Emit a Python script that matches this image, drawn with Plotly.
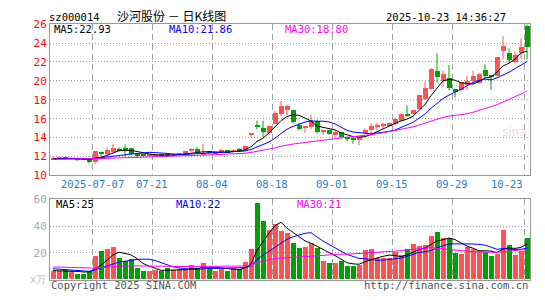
import plotly.graph_objects as go
import pandas as pd

# ---------------- data ----------------
dates = [
    "2025-06-26", "2025-06-27", "2025-06-30", "2025-07-01", "2025-07-02", "2025-07-03", "2025-07-04",
    "2025-07-07", "2025-07-08", "2025-07-09", "2025-07-10", "2025-07-11",
    "2025-07-14", "2025-07-15", "2025-07-16", "2025-07-17", "2025-07-18",
    "2025-07-21", "2025-07-22", "2025-07-23", "2025-07-24", "2025-07-25",
    "2025-07-28", "2025-07-29", "2025-07-30", "2025-07-31", "2025-08-01",
    "2025-08-04", "2025-08-05", "2025-08-06", "2025-08-07", "2025-08-08",
    "2025-08-11", "2025-08-12", "2025-08-13", "2025-08-14", "2025-08-15",
    "2025-08-18", "2025-08-19", "2025-08-20", "2025-08-21", "2025-08-22",
    "2025-08-25", "2025-08-26", "2025-08-27", "2025-08-28", "2025-08-29",
    "2025-09-01", "2025-09-02", "2025-09-03", "2025-09-04", "2025-09-05",
    "2025-09-08", "2025-09-09", "2025-09-10", "2025-09-11", "2025-09-12",
    "2025-09-15", "2025-09-16", "2025-09-17", "2025-09-18", "2025-09-19",
    "2025-09-22", "2025-09-23", "2025-09-24", "2025-09-25", "2025-09-26",
    "2025-09-29", "2025-09-30", "2025-10-09", "2025-10-10",
    "2025-10-13", "2025-10-14", "2025-10-15", "2025-10-16", "2025-10-17",
    "2025-10-20", "2025-10-21", "2025-10-22", "2025-10-23",
]

opens = [11.70, 11.75, 11.82, 11.72, 11.75, 11.70, 11.62, 11.39, 12.37, 12.20,
         12.47, 12.82, 12.80, 12.88, 12.27, 12.14, 12.07, 12.12, 12.20, 12.15,
         12.08, 12.18, 12.34, 12.56, 12.77, 12.20, 12.54, 12.32, 12.50, 12.62,
         12.50, 12.77, 12.62, 14.30, 15.30, 14.98, 14.42, 15.43, 16.47, 16.95,
         16.90, 15.30, 14.96, 15.10, 15.75, 14.62, 14.76, 14.28, 14.55, 14.05,
         13.85, 13.68, 14.42, 14.76, 15.10, 15.30, 15.23, 15.43, 15.77, 16.45,
         16.50, 17.05, 18.03, 19.11, 21.00, 19.92, 20.33, 19.11, 19.05, 19.52,
         19.99, 19.75, 21.14, 20.53, 20.53, 23.10, 22.96, 22.02, 22.90, 25.80]
highs = [12.05, 11.92, 11.86, 11.85, 11.78, 11.72, 11.65, 12.54, 12.40, 12.95,
         13.35, 12.95, 13.28, 12.90, 12.30, 12.18, 12.20, 12.25, 12.24, 12.20,
         12.22, 12.36, 12.58, 12.85, 12.97, 13.35, 12.58, 12.42, 12.83, 12.66,
         12.75, 12.90, 13.15, 14.36, 15.78, 15.78, 15.27, 16.80, 17.90, 17.50,
         16.95, 15.57, 15.25, 16.40, 15.90, 14.85, 14.85, 14.76, 14.60, 14.10,
         14.08, 14.10, 14.96, 15.50, 15.57, 15.57, 15.60, 16.10, 16.60, 17.40,
         16.95, 18.55, 19.92, 21.30, 22.90, 21.07, 21.68, 19.15, 19.90, 20.53,
         21.07, 20.80, 21.75, 20.60, 22.50, 24.72, 23.43, 23.10, 24.51, 26.00]
lows = [11.65, 11.70, 11.70, 11.68, 11.50, 11.60, 11.28, 11.19, 12.00, 12.15,
        12.40, 12.55, 12.00, 12.20, 11.86, 12.00, 12.03, 12.08, 12.08, 12.02,
        12.05, 12.15, 12.30, 12.52, 12.48, 12.15, 12.28, 12.25, 12.45, 12.40,
        12.45, 12.50, 12.58, 14.05, 14.90, 14.07, 14.30, 15.40, 16.25, 16.30,
        15.45, 14.76, 14.49, 14.90, 14.42, 14.29, 14.30, 14.08, 14.00, 13.61,
        13.34, 13.20, 14.35, 14.42, 14.76, 14.96, 15.10, 15.30, 15.75, 16.20,
        16.45, 17.00, 18.00, 19.00, 19.82, 19.38, 18.98, 18.24, 18.84, 19.05,
        19.65, 19.70, 20.26, 19.05, 20.45, 22.29, 21.95, 21.88, 22.35, 22.29]
closes = [11.85, 11.85, 11.75, 11.80, 11.68, 11.66, 11.35, 12.54, 12.30, 12.68,
          12.88, 12.65, 12.70, 12.27, 12.13, 12.07, 12.15, 12.20, 12.12, 12.08,
          12.18, 12.32, 12.54, 12.77, 12.50, 12.32, 12.32, 12.38, 12.70, 12.45,
          12.70, 12.56, 13.08, 14.36, 15.15, 14.57, 15.25, 16.60, 17.37, 17.30,
          15.60, 14.90, 15.23, 15.77, 14.56, 14.83, 14.35, 14.55, 14.08, 13.81,
          13.75, 14.08, 14.76, 15.23, 15.36, 15.36, 15.57, 15.97, 16.50, 16.35,
          16.90, 18.50, 19.18, 21.27, 20.40, 20.67, 19.25, 18.78, 19.86, 19.92,
          20.46, 20.75, 20.53, 20.40, 22.49, 23.70, 22.22, 22.69, 23.57, 23.57]
volumes = [6.5, 6.5, 7.2, 6.3, 4.3, 4.3, 6.3, 17.8, 21.2, 22.7,
           24.3, 16.3, 14.0, 15.2, 8.4, 6.4, 6.4, 7.3, 6.2, 8.8,
           6.8, 7.6, 7.5, 10.5, 8.5, 12.0, 8.8, 6.5, 7.6, 6.5,
           8.8, 7.4, 13.3, 22.8, 57.0, 43.5, 37.0, 41.0, 36.0, 34.5,
           26.8, 23.4, 23.9, 27.2, 23.4, 14.0, 12.5, 12.5, 14.0, 9.9,
           9.9, 11.0, 21.7, 22.5, 15.8, 15.8, 15.8, 20.1, 18.2, 22.5,
           26.2, 24.8, 25.8, 32.4, 35.2, 30.7, 31.0, 19.9, 19.1, 24.3,
           22.9, 21.5, 20.1, 17.7, 18.7, 36.6, 25.3, 18.2, 21.5, 31.0]

# sessions before the first visible day (only feed the moving averages)
hist_closes = [11.62, 11.70, 11.66, 11.74, 11.68, 11.72, 11.65, 11.60, 11.69, 11.75,
               11.71, 11.66, 11.63, 11.70, 11.74, 11.68, 11.72, 11.77, 11.70, 11.66,
               11.69, 11.73, 11.71, 11.68, 11.74, 11.70, 11.76, 11.72, 11.75]
hist_volumes = [11.5, 12.8, 10.2, 9.6, 13.4, 11.0, 9.8, 10.5, 8.9, 12.1,
                10.6, 9.3, 8.7, 11.2, 9.9, 10.4, 8.8, 7.9, 8.6, 7.1,
                9.8, 10.5, 8.7, 9.6, 8.9, 6.8, 7.2, 6.5, 6.5]

price_ticks = [10, 12, 14, 16, 18, 20, 22, 24, 26]
vol_ticks = [20, 40, 60]
grid_dates = ["2025-07-07", "2025-07-21", "2025-08-04", "2025-08-18",
              "2025-09-01", "2025-09-15", "2025-09-29", "2025-10-23"]
grid_labels = ["2025-07-07", "07-21", "08-04", "08-18", "09-01", "09-15", "09-29", "10-23"]

price_ma_labels = ["MA5:22.93", "MA10:21.86", "MA30:18.80"]
vol_ma_labels = ["MA5:25", "MA10:22", "MA30:21"]

# ---------------- styles ----------------
RED = "#ff5252"
GREEN = "#00a000"
MA_COLORS = ["#000000", "#0000ff", "#ff00ff"]
MONO = "DejaVu Sans Mono"
W, H = 545, 300
L_PX, R_PX = 50, 530
P_TOP, P_BOT = 19, 177
V_TOP, V_BOT = 202, 286

n = len(dates)
xs = list(range(n))
up = [c >= o for o, c in zip(opens, closes)]
colors = [RED if u else GREEN for u in up]

c_all = pd.Series(hist_closes + closes)
v_all = pd.Series(hist_volumes + volumes)
k = len(hist_closes)
price_mas = [c_all.rolling(w, min_periods=1).mean().iloc[k:].tolist() for w in (5, 10, 30)]
vol_mas = [v_all.rolling(w, min_periods=1).mean().iloc[k:].tolist() for w in (5, 10, 30)]

fig = go.Figure()

# wicks
for col, flag in ((RED, True), (GREEN, False)):
    wx, wy = [], []
    for i in xs:
        if up[i] == flag:
            wx += [i, i, None]
            wy += [lows[i], highs[i], None]
    fig.add_trace(go.Scatter(x=wx, y=wy, mode="lines", line=dict(color=col, width=1),
                             hoverinfo="skip", xaxis="x", yaxis="y"))

# bodies
base = [min(o, c) for o, c in zip(opens, closes)]
height = [max(abs(c - o), 0.09) for o, c in zip(opens, closes)]
fig.add_trace(go.Bar(x=xs, y=height, base=base, width=5 / 6, marker=dict(color=colors, line=dict(width=0)),
                     xaxis="x", yaxis="y"))

# volume bars
fig.add_trace(go.Bar(x=xs, y=volumes, width=5 / 6, marker=dict(color=colors, line=dict(width=0)),
                     xaxis="x2", yaxis="y2"))

for ma, col in zip(price_mas, MA_COLORS):
    fig.add_trace(go.Scatter(x=xs, y=ma, mode="lines", line=dict(color=col, width=1),
                             xaxis="x", yaxis="y"))
for ma, col in zip(vol_mas, MA_COLORS):
    fig.add_trace(go.Scatter(x=xs, y=ma, mode="lines", line=dict(color=col, width=1),
                             xaxis="x2", yaxis="y2"))

grid_idx = [dates.index(d) - 0.5 for d in grid_dates]

xdom = [L_PX / W, R_PX / W]
common_x = dict(domain=xdom, range=[-0.5, n - 0.5], showticklabels=False, ticks="",
                tickvals=grid_idx, showgrid=True, gridcolor="#a0a0a0", griddash="6px,4px",
                gridwidth=1, zeroline=False, showline=True, mirror=True, linecolor="#999999",
                linewidth=1, fixedrange=True)
fig.update_layout(
    width=W, height=H, margin=dict(l=0, r=0, t=0, b=0),
    paper_bgcolor="white", plot_bgcolor="white", showlegend=False, bargap=0,
    xaxis=dict(anchor="y", **common_x),
    xaxis2=dict(anchor="y2", matches="x", **common_x),
    yaxis=dict(domain=[1 - P_BOT / H, 1 - P_TOP / H], range=[10, 26], anchor="x",
               tickvals=price_ticks, ticktext=[str(t) for t in price_ticks], ticks="",
               tickfont=dict(family=MONO, size=11, color="#ff0000"),
               showgrid=True, gridcolor="#a0a0a0", griddash="1px,2px", zeroline=False,
               showline=True, mirror=True, linecolor="#999999", linewidth=1),
    yaxis2=dict(domain=[1 - V_BOT / H, 1 - V_TOP / H], range=[0, 60], anchor="x2",
                tickvals=vol_ticks, ticktext=[str(t) for t in vol_ticks], ticks="",
                tickfont=dict(family=MONO, size=11, color="#a8a8a8"),
                showgrid=True, gridcolor="#a0a0a0", griddash="1px,2px", zeroline=False,
                showline=True, mirror=True, linecolor="#999999", linewidth=1),
)

ann = []
def txt(x, y, s, color="#000000", size=10, anchor="left", family=MONO):
    ann.append(dict(x=x / W, y=1 - y / H, xref="paper", yref="paper", text=s, showarrow=False,
                    xanchor=anchor, yanchor="middle", font=dict(family=family, size=size, color=color)))

txt(47, 11, "sz000014", size=10.5)
txt(115, 10, "沙河股份 － 日K线图", size=12, family="Noto Sans CJK SC")
txt(508, 11, "2025-10-23 14:36:27", size=10.5, anchor="right")

for s, xp, col in zip(price_ma_labels, (52, 167, 283), MA_COLORS):
    txt(xp, 24, s, color=col, size=10.5)
for s, xp, col in zip(vol_ma_labels, (54, 174, 295), MA_COLORS):
    txt(xp, 207, s, color=col, size=10.5)

for d, lab in zip(grid_dates, grid_labels):
    i = dates.index(d) - 0.5
    anchor = "right" if d == grid_dates[-1] else "center"
    ann.append(dict(x=i + (0.2 if anchor == "right" else 0), y=1 - 186 / H, xref="x", yref="paper",
                    text=lab, showarrow=False, xanchor=anchor, yanchor="middle",
                    font=dict(family=MONO, size=10.5, color="#1f80c8")))

txt(28, 286, "x万", color="#bbbbbb", size=10)
txt(49, 292, "Copyright 2025 SINA.COM", color="#555555", size=10.5)
txt(530, 292, "http://finance.sina.com.cn", color="#555555", size=10.5, anchor="right")
txt(514, 132, "sina", color="rgba(200,120,120,0.30)", size=12, anchor="center", family="DejaVu Sans")

fig.update_layout(annotations=ann)
fig.write_html("out.html")
